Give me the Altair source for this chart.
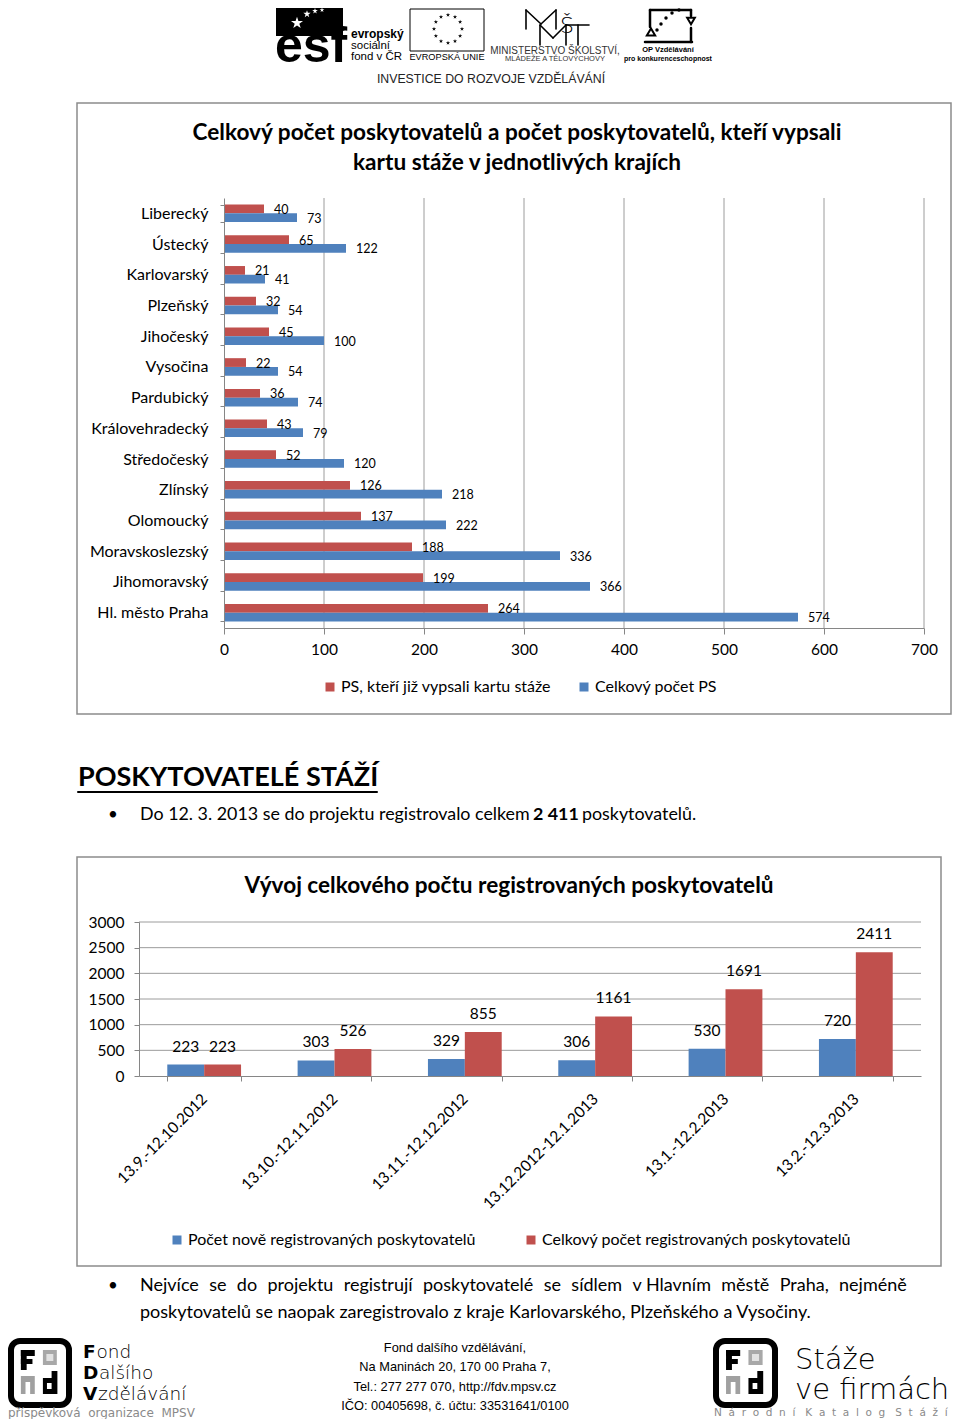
import math
import altair as alt
import pandas as pd

# ---------------- data ----------------
regions = ["Liberecký", "Ústecký", "Karlovarský", "Plzeňský", "Jihočeský", "Vysočina",
           "Pardubický", "Královehradecký", "Středočeský", "Zlínský", "Olomoucký",
           "Moravskoslezský", "Jihomoravský", "Hl. město Praha"]
ps_karta = [40, 65, 21, 32, 45, 22, 36, 43, 52, 126, 137, 188, 199, 264]
ps_celkem = [73, 122, 41, 54, 100, 54, 74, 79, 120, 218, 222, 336, 366, 574]
series1 = ["PS, kteří již vypsali kartu stáže", "Celkový počet PS"]
x1_ticks = [0, 100, 200, 300, 400, 500, 600, 700]

periods = ["13.9.-12.10.2012", "13.10.-12.11.2012", "13.11.-12.12.2012",
           "13.12.2012-12.1.2013", "13.1.-12.2.2013", "13.2.-12.3.2013"]
novi = [223, 303, 329, 306, 530, 720]
celkem = [223, 526, 855, 1161, 1691, 2411]
series2 = ["Počet nově registrovaných poskytovatelů", "Celkový počet registrovaných poskytovatelů"]
y2_ticks = [0, 500, 1000, 1500, 2000, 2500, 3000]

df1 = pd.DataFrame({
    "region": regions + regions,
    "series": [series1[0]] * len(regions) + [series1[1]] * len(regions),
    "value": ps_karta + ps_celkem,
})
df2 = pd.DataFrame({
    "period": periods + periods,
    "series": [series2[0]] * len(periods) + [series2[1]] * len(periods),
    "value": novi + celkem,
})

# ---------------- style ----------------
RED = "#C0504D"
BLUE = "#4F81BD"
GRID = "#9c9c9c"
AXC = "#868686"
BOX = "#8c8c8c"
FONT = "Lato"
SANS = "Liberation Sans"
W, H = 944, 1411
M = 8  # page margin; helpers below take page coordinates
NB = "\u00a0"
STAR = ("M0,-1L0.2245,-0.309L0.951,-0.309L0.363,0.118L0.588,0.809L0,0.382"
        "L-0.588,0.809L-0.363,0.118L-0.951,-0.309L-0.2245,-0.309Z")

one = pd.DataFrame({"k": [0]})


def T(s, x, y, size=13, font=FONT, weight="normal", align="left", color="black",
      baseline="middle", **kw):
    return alt.Chart(one).mark_text(
        text=s, align=align, baseline=baseline, font=font, fontSize=size,
        fontWeight=weight, color=color, **kw
    ).encode(x=alt.value(x - M), y=alt.value(y - M))


def R(x1, y1, x2, y2, fill="white", stroke=None, sw=1, **kw):
    props = dict(fill=fill, **kw)
    if stroke:
        props.update(stroke=stroke, strokeWidth=sw)
    return alt.Chart(one).mark_rect(**props).encode(
        x=alt.value(x1 - M), x2=alt.value(x2 - M), y=alt.value(y1 - M), y2=alt.value(y2 - M))


def L(x1, y1, x2, y2, color="black", sw=1):
    return alt.Chart(one).mark_rule(color=color, strokeWidth=sw, strokeCap="round").encode(
        x=alt.value(x1 - M), x2=alt.value(x2 - M), y=alt.value(y1 - M), y2=alt.value(y2 - M))


def P(x, y, shape=STAR, size=30, color="black", filled=True, sw=1):
    return alt.Chart(one).mark_point(
        shape=shape, size=size, filled=filled, color=color, strokeWidth=sw, opacity=1
    ).encode(x=alt.value(x - M), y=alt.value(y - M))


def spaced(word, gap):
    return gap.join(list(word))


layers = []

# ---------------- header logos ----------------
layers += [
    R(276, 8, 343, 36, fill="black"),
    T("esf", 275, 62, size=50, font=SANS, weight="bold", baseline="alphabetic"),
    P(297, 23, size=160, color="white"),
    P(307, 14, size=60, color="white"),
    P(315, 11, size=35, color="white"),
    P(322, 10, size=25, color="white"),
    T("evropský", 351, 34, size=12, font=SANS, weight="bold"),
    T("sociální", 351, 46, size=11.5, font=SANS),
    T("fond v ČR", 351, 57, size=11.5, font=SANS),
    R(410, 9, 484, 51, fill="white", stroke="black", sw=1),
    T("EVROPSKÁ UNIE", 447, 57, size=9.2, font=SANS, align="center"),
]
for i in range(12):
    a = math.radians(i * 30)
    layers.append(P(448 + 14 * math.sin(a), 29 - 14 * math.cos(a), size=20))
# MŠMT monogram drawn with thin strokes
layers += [
    L(526, 29, 526, 10, sw=1.6), L(526, 10, 541, 24, sw=1.6),
    L(541, 24, 556, 10, sw=1.6), L(556, 10, 556, 29, sw=1.6),
    L(540, 45, 540, 25, sw=1.6), L(540, 25, 553, 38, sw=1.6),
    L(553, 38, 566, 25, sw=1.6), L(566, 25, 566, 45, sw=1.6),
    L(566, 25, 589, 25, sw=1.6), L(578, 25, 578, 45, sw=1.6),
    T("Š", 560, 33, size=22, font="DejaVu Sans", weight=300, baseline="alphabetic"),
    T("MINISTERSTVO ŠKOLSTVÍ,", 555, 51, size=10, font=SANS, align="center", color="#333"),
    T("MLÁDEŽE A TĚLOVÝCHOVY", 555, 59, size=7.5, font=SANS, align="center", color="#333"),
    L(650, 10, 650, 27, sw=2.5),
    L(650, 10, 691, 10, sw=2.5),
    L(691, 10, 691, 16, sw=2.5),
    P(691, 21, shape="triangle-down", size=60, filled=False, sw=2),
    P(651, 32, shape="triangle-up", size=70, filled=False, sw=2),
    L(645, 42, 692, 42, sw=2.5),
    L(691, 28, 691, 42, sw=2.5),
    P(657, 30, shape="circle", size=12),
    P(661, 24, shape="circle", size=12),
    P(666, 18, shape="circle", size=12),
    P(672, 13, shape="circle", size=12),
    P(679, 10, shape="circle", size=12),
    T("OP Vzdělávání", 668, 50, size=7.5, font=SANS, weight="bold", align="center"),
    T("pro konkurenceschopnost", 668, 59, size=7, font=SANS, weight="bold", align="center"),
    T("INVESTICE DO ROZVOJE VZDĚLÁVÁNÍ", 491, 79, size=12.3,
      font="Liberation Sans Narrow, Liberation Sans", align="center", color="#222"),
]

# ---------------- chart 1: horizontal grouped bars ----------------
layers += [
    R(77, 103, 951, 714, fill="transparent", stroke=BOX, sw=1.5),
    T("Celkový počet poskytovatelů a počet poskytovatelů, kteří vypsali", 517, 133,
      size=22.6, weight="bold", align="center"),
    T("kartu stáže v jednotlivých krajích", 517, 163, size=22.6, weight="bold", align="center"),
]

xs1 = alt.Scale(domain=[0, 700], range=[224 - M, 924 - M], nice=False)
ys1 = alt.Scale(domain=regions, range=[198 - M, 628 - M], paddingInner=0.43, paddingOuter=0.215)
ys1_off = alt.Scale(domain=series1)
col1 = alt.Scale(domain=series1, range=[RED, BLUE])
ax_x1 = alt.Axis(orient="bottom", offset=-(H - (628 - M)), title=None, grid=False, zindex=1,
                 values=x1_ticks, domainColor=AXC, tickColor=AXC, tickSize=6,
                 labelFont=FONT, labelFontSize=15.5, labelColor="black", labelPadding=8,
                 labelFlush=False)
ax_y1 = alt.Axis(orient="left", offset=-(224 - M), title=None, grid=False, zindex=1,
                 domainColor=AXC, tickColor=AXC, tickSize=4, tickBand="extent",
                 labelFont=FONT, labelFontSize=16, labelColor="black", labelPadding=12)
leg1 = alt.Legend(orient="none", legendX=322 - M, legendY=679 - M, direction="horizontal",
                  title=None, symbolType="square", symbolSize=81, symbolStrokeWidth=0,
                  labelFont=FONT, labelFontSize=16, labelColor="black", labelOffset=3,
                  labelLimit=500, columnPadding=25, padding=0)

grid1 = alt.Chart(pd.DataFrame({"t": x1_ticks[1:]})).mark_rule(color=GRID, strokeWidth=1).encode(
    x=alt.X("t:Q", scale=xs1, axis=ax_x1),
    y=alt.value(198 - M), y2=alt.value(628 - M))
bars1 = alt.Chart(df1).mark_bar().encode(
    x=alt.X("value:Q", scale=xs1, axis=ax_x1),
    y=alt.Y("region:N", scale=ys1, axis=ax_y1),
    yOffset=alt.YOffset("series:N", scale=ys1_off),
    color=alt.Color("series:N", scale=col1, legend=leg1),
)
lab1 = alt.Chart(df1).mark_text(align="left", baseline="middle", dx=10, dy=1, font=FONT,
                                fontSize=12.5, color="black").encode(
    x=alt.X("value:Q", scale=xs1, axis=ax_x1),
    y=alt.Y("region:N", scale=ys1, axis=ax_y1),
    yOffset=alt.YOffset("series:N", scale=ys1_off),
    text=alt.Text("value:Q"),
)
layers.append(alt.layer(grid1, bars1, lab1))

# ---------------- heading + bullet ----------------
layers += [
    T("POSKYTOVATELÉ STÁŽÍ", 78, 778, size=27, weight="bold"),
    L(78, 792, 377, 792, sw=2),
    T("•", 113, 815, size=17, align="center"),
    T("Do 12. 3. 2013 se do projektu registrovalo celkem", 140, 815, size=17.85),
    T("2 411", 533, 815, size=17.85, weight="bold"),
    T("poskytovatelů.", 582, 815, size=17.85),
]

# ---------------- chart 2: vertical grouped bars ----------------
layers += [
    R(77, 857, 941, 1266, fill="transparent", stroke=BOX, sw=1.5),
    T("Vývoj celkového počtu registrovaných poskytovatelů", 509, 886, size=22.6,
      weight="bold", align="center"),
]

xs2 = alt.Scale(domain=periods, range=[139 - M, 921 - M], paddingInner=0.434, paddingOuter=0.217)
xs2_off = alt.Scale(domain=series2)
ys2 = alt.Scale(domain=[0, 3000], range=[1076 - M, 922 - M], nice=False)
col2 = alt.Scale(domain=series2, range=[BLUE, RED])
ax_x2 = alt.Axis(orient="bottom", offset=-(H - (1076 - M)), title=None, grid=False, zindex=1,
                 domainColor=AXC, tickColor=AXC, tickSize=5, tickBand="extent",
                 labelAngle=-45, labelAlign="right", labelBaseline="middle",
                 labelFont=FONT, labelFontSize=15.5, labelColor="black", labelPadding=15)
ax_y2 = alt.Axis(orient="left", offset=-(139 - M), title=None, grid=False, values=y2_ticks,
                 format="d", zindex=1, domainColor=AXC, tickColor=AXC, tickSize=5,
                 labelFont=FONT, labelFontSize=15.5, labelColor="black", labelPadding=10)
leg2 = alt.Legend(orient="none", legendX=169 - M, legendY=1232 - M, direction="horizontal",
                  title=None, symbolType="square", symbolSize=81, symbolStrokeWidth=0,
                  labelFont=FONT, labelFontSize=16, labelColor="black", labelOffset=3,
                  labelLimit=500, columnPadding=47, padding=0)

grid2 = alt.Chart(pd.DataFrame({"t": y2_ticks[1:]})).mark_rule(color=GRID, strokeWidth=1).encode(
    y=alt.Y("t:Q", scale=ys2, axis=ax_y2),
    x=alt.value(139 - M), x2=alt.value(921 - M))
bars2 = alt.Chart(df2).mark_bar().encode(
    x=alt.X("period:N", scale=xs2, axis=ax_x2),
    xOffset=alt.XOffset("series:N", scale=xs2_off),
    y=alt.Y("value:Q", scale=ys2, axis=ax_y2),
    color=alt.Color("series:N", scale=col2, legend=leg2),
)
lab2 = alt.Chart(df2).mark_text(align="center", baseline="middle", dy=-18, font=FONT,
                                fontSize=15.5, color="black").encode(
    x=alt.X("period:N", scale=xs2, axis=ax_x2),
    xOffset=alt.XOffset("series:N", scale=xs2_off),
    y=alt.Y("value:Q", scale=ys2, axis=ax_y2),
    text=alt.Text("value:Q"),
)
layers.append(alt.layer(grid2, bars2, lab2))

# ---------------- bottom bullet ----------------
G = " " + NB + "\u200a"
layers += [
    T("•", 113, 1286, size=17, align="center"),
    T(G.join(["Nejvíce", "se", "do", "projektu", "registrují", "poskytovatelé", "se", "sídlem",
              "v Hlavním", "městě", "Praha,", "nejméně"]), 140, 1286, size=18),
    T("poskytovatelů se naopak zaregistrovalo z kraje Karlovarského, Plzeňského a Vysočiny.",
      140, 1313, size=18),
]


# ---------------- footer ----------------
def fdv_logo(x0, y0, x1):
    w = x1 - x0
    fx = lambda f: x0 + f * w
    return [
        R(x0, y0, x1, y0 + 64, fill="white", stroke="black", sw=6, cornerRadius=9),
        # F
        R(fx(0.17), y0 + 9, fx(0.27), y0 + 29, fill="black"),
        R(fx(0.17), y0 + 9, fx(0.41), y0 + 15, fill="black"),
        R(fx(0.17), y0 + 18, fx(0.37), y0 + 23, fill="black"),
        # grey square
        R(fx(0.55), y0 + 9, fx(0.79), y0 + 24, fill="#a8a8a8"),
        R(fx(0.61), y0 + 13, fx(0.73), y0 + 20, fill="#e2e2e2"),
        # n
        R(fx(0.17), y0 + 35, fx(0.41), y0 + 53, fill="#a0a0a0"),
        R(fx(0.25), y0 + 41, fx(0.33), y0 + 53, fill="white"),
        # d
        R(fx(0.55), y0 + 37, fx(0.80), y0 + 53, fill="black"),
        R(fx(0.70), y0 + 30, fx(0.80), y0 + 37, fill="black"),
        R(fx(0.62), y0 + 42, fx(0.70), y0 + 48, fill="white"),
    ]


FW = 18.5
layers += fdv_logo(11, 1341, 69)
layers += [
    T("F", 83, 1358, size=FW, font="DejaVu Sans", weight="bold", baseline="alphabetic"),
    T("ond", 96.5, 1358, size=FW, font="DejaVu Sans", weight=200, baseline="alphabetic"),
    T("D", 83, 1379, size=FW, font="DejaVu Sans", weight="bold", baseline="alphabetic"),
    T("alšího", 99, 1379, size=FW, font="DejaVu Sans", weight=200, baseline="alphabetic"),
    T("V", 83, 1400, size=FW, font="DejaVu Sans", weight="bold", baseline="alphabetic"),
    T("zdělávání", 98, 1400, size=FW, font="DejaVu Sans", weight=200, baseline="alphabetic"),
    T("příspěvková" + NB * 2 + "organizace" + NB * 2 + "MPSV", 8, 1413, size=12,
      font="DejaVu Sans", color="#8a8a8a"),
    T("Fond dalšího vzdělávání,", 455, 1348, size=12.8, font=SANS, align="center"),
    T("Na Maninách 20, 170 00 Praha 7,", 455, 1367, size=12.8, font=SANS, align="center"),
    T("Tel.: 277 277 070, http://fdv.mpsv.cz", 455, 1387, size=12.8, font=SANS, align="center"),
    T("IČO: 00405698, č. účtu: 33531641/0100", 455, 1406, size=12.8, font=SANS, align="center"),
]
layers += fdv_logo(716, 1341, 775)
layers += [
    T("Stáže", 795, 1369, size=29, font="DejaVu Sans", weight=200, baseline="alphabetic"),
    T("ve firmách", 795, 1399, size=29, font="DejaVu Sans", weight=200, baseline="alphabetic"),
    T((NB * 3).join([spaced("Národní", NB * 2), spaced("Katalog", NB * 2), spaced("Stáží", NB * 2)]),
      714, 1413, size=10.5, font="DejaVu Sans", color="#8a8a8a"),
]

chart = alt.layer(*layers).resolve_scale(
    x="independent", y="independent", color="independent",
    xOffset="independent", yOffset="independent",
).properties(
    width=W, height=H, padding=0, background="white",
    autosize=alt.AutoSizeParams(type="none"),
).configure_view(stroke=None)

chart.save("out.html", embed_options={"renderer": "svg", "actions": False})
